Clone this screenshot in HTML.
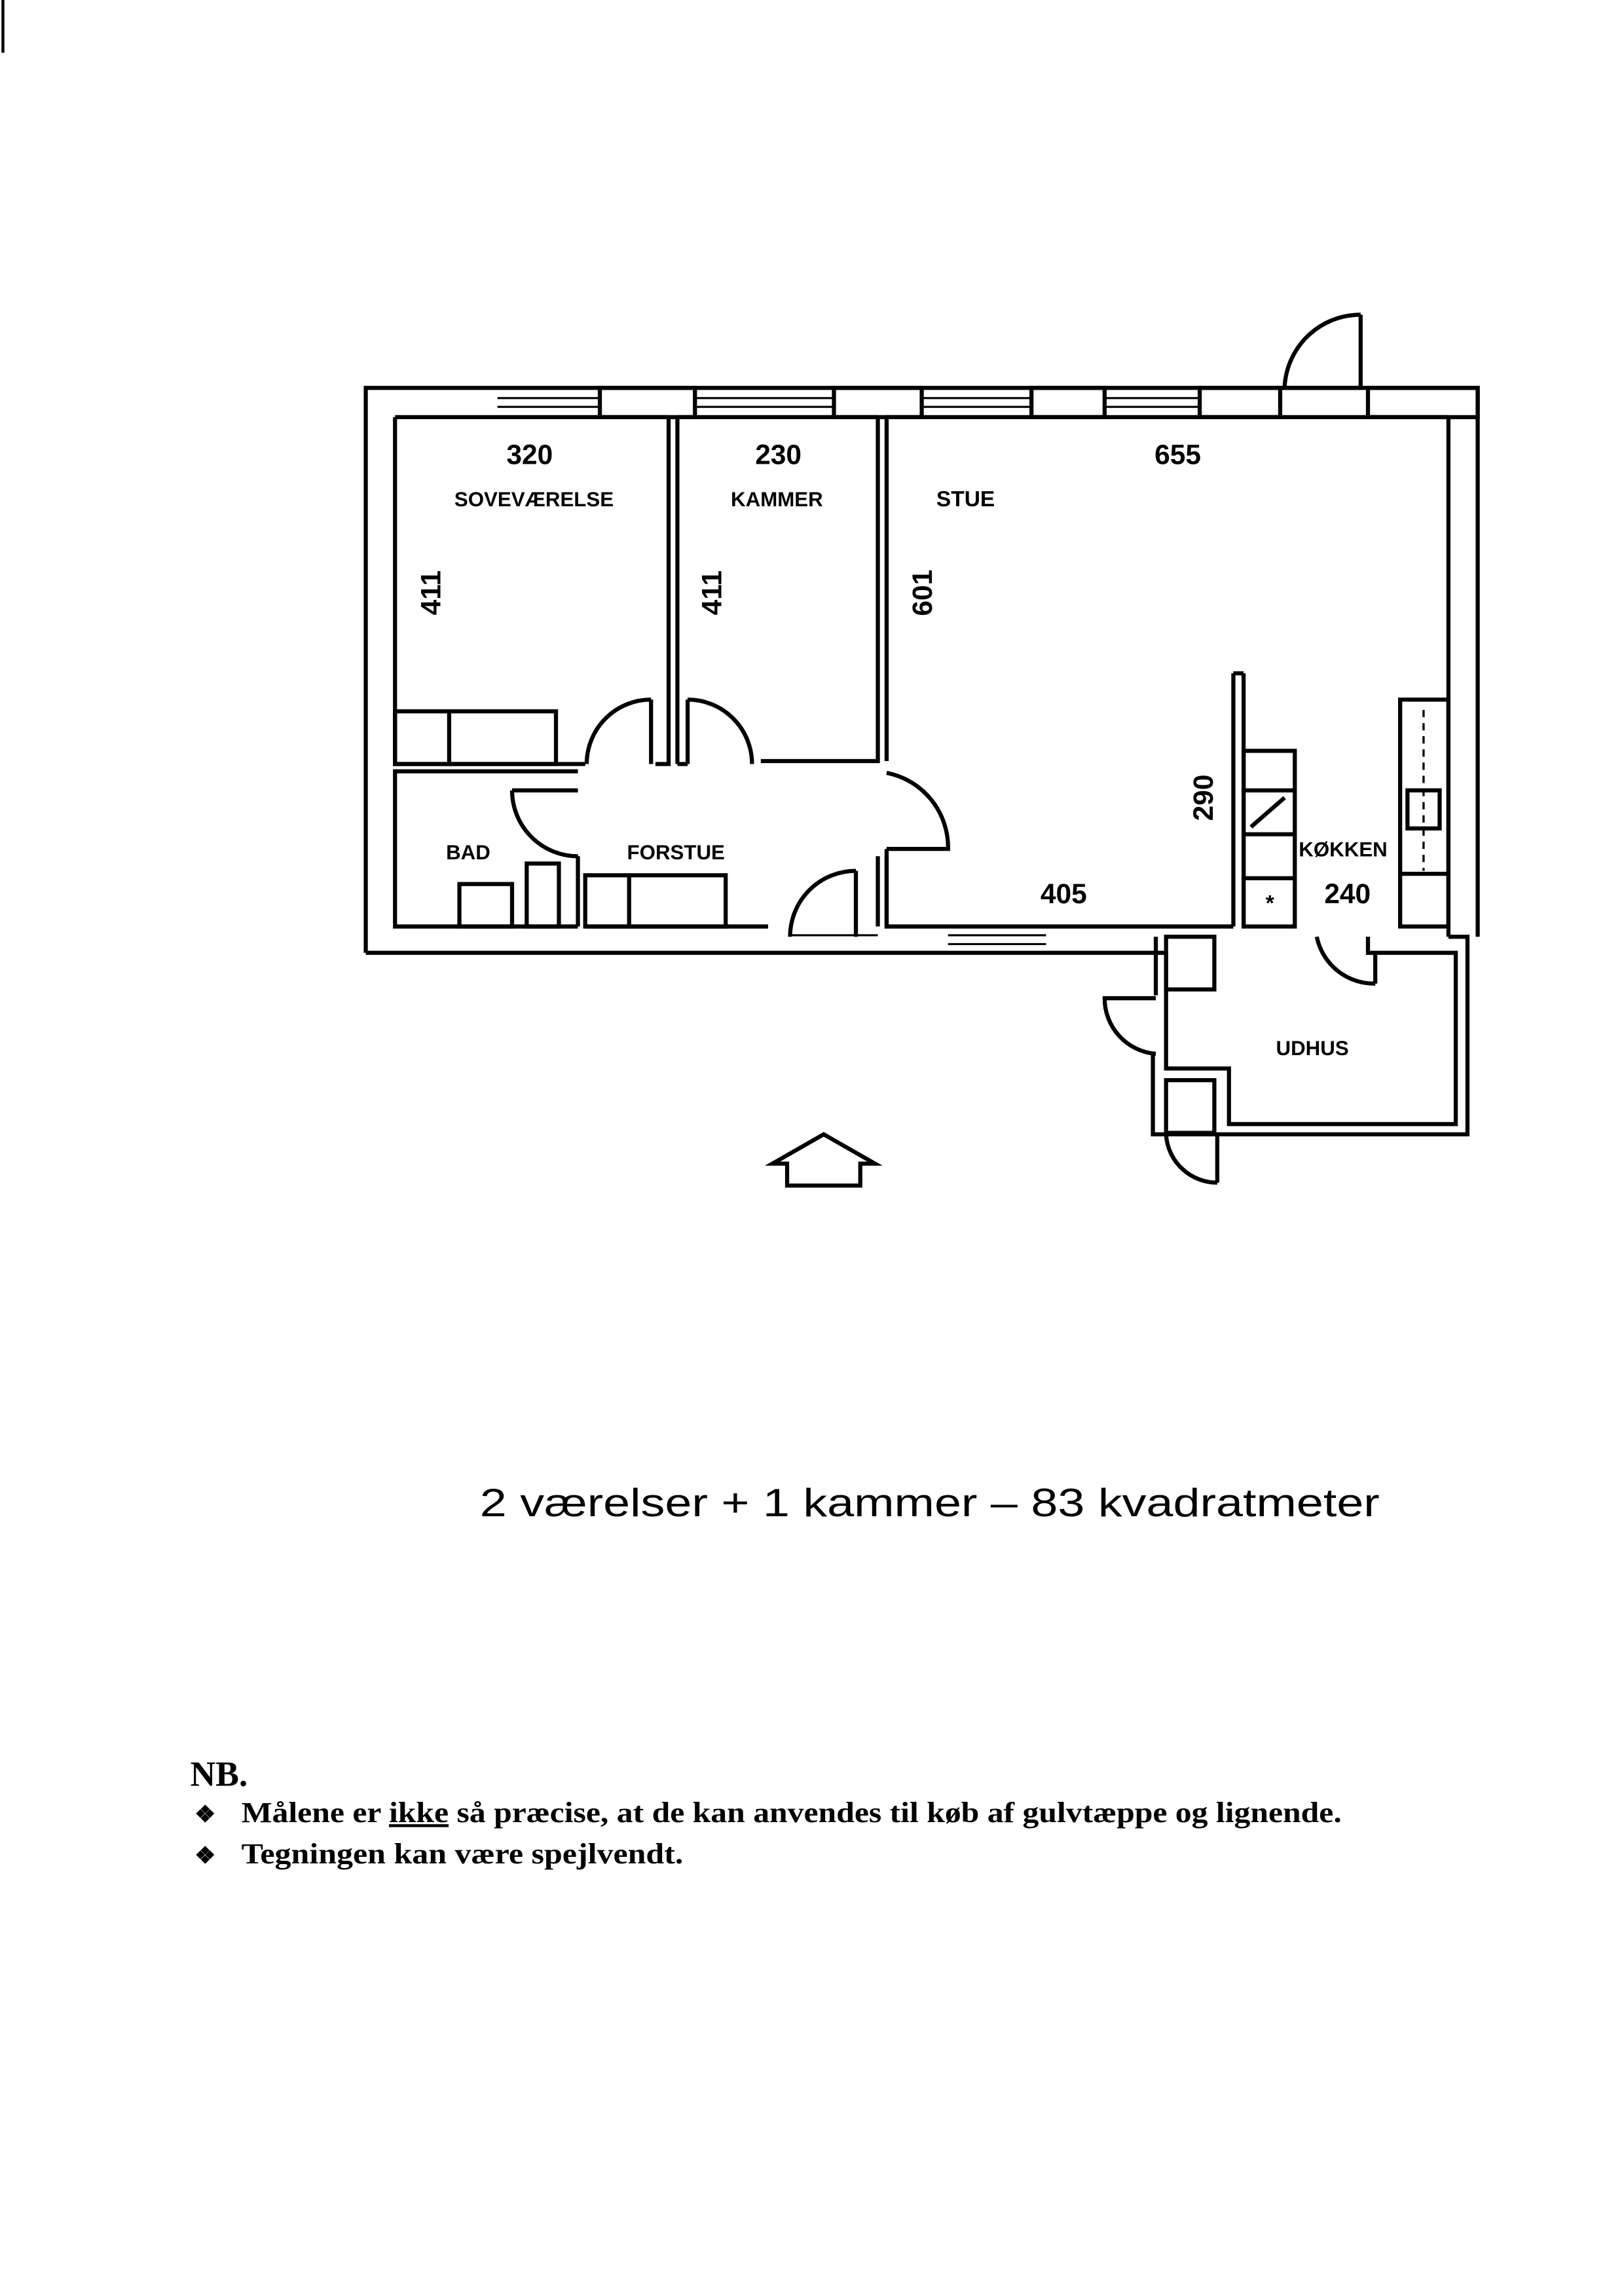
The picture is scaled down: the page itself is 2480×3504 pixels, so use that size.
<!DOCTYPE html>
<html><head><meta charset="utf-8"><style>
html,body{margin:0;padding:0;background:#fff}
svg{display:block}
</style></head><body>
<svg width="2480" height="3504" viewBox="0 0 1110 1568" preserveAspectRatio="none" xmlns="http://www.w3.org/2000/svg">
<rect width="1110" height="1568" fill="#fff"/>
<line x1="2" y1="0" x2="2" y2="36" stroke="#000" stroke-width="2"/>
<g fill="none" stroke="#000" stroke-width="2.8">
<polyline points="250,651 250,265 1010,265 1010,640"/>
<line x1="250" y1="651" x2="790" y2="651"/>
<line x1="270" y1="285" x2="457" y2="285"/>
<line x1="463" y1="285" x2="600" y2="285"/>
<line x1="606" y1="285" x2="990" y2="285"/>
<polyline points="400,522 270,522 270,285"/>
<polyline points="457,285 457,522 448,522"/>
<line x1="463" y1="285" x2="463" y2="522"/>
<polyline points="600,285 600,520 520,520"/>
<line x1="463" y1="522" x2="470" y2="522"/>
<polyline points="606,285 606,520"/>
<polyline points="606,580 606,633 843,633"/>
<polyline points="990,285 990,640"/>
<line x1="843" y1="460" x2="843" y2="633"/>
<line x1="850" y1="460" x2="850" y2="633"/>
<line x1="843" y1="460" x2="850" y2="460"/>
<polyline points="395,527 270,527 270,633 395,633"/>
<line x1="395" y1="585" x2="395" y2="633"/>
<line x1="400" y1="633" x2="525" y2="633"/>
<line x1="600" y1="585" x2="600" y2="633"/>
<line x1="606" y1="633" x2="606" y2="585"/>
<rect x="270" y="486" width="110" height="36"/>
<line x1="307" y1="486" x2="307" y2="522"/>
<rect x="400" y="598" width="96" height="35"/>
<line x1="430" y1="598" x2="430" y2="633"/>
<rect x="314" y="604" width="36" height="29"/>
<rect x="360" y="590" width="22" height="43"/>
<path d="M445,478 L445,522 M445,478 A44,44 0 0 0 401,522"/>
<path d="M470,478 L470,522 M470,478 A44,44 0 0 1 514,522"/>
<path d="M350,540 L395,540 M350,540 A45,45 0 0 0 395,585"/>
<path d="M606,528 A52,52 0 0 1 648,580 L606,580"/>
<path d="M585,595 L585,640 M585,595 A45,45 0 0 0 540,640"/>
<path d="M930,215 L930,265 M930,215 A52,52 0 0 0 878,265 L930,265"/>
<rect x="850" y="513" width="35" height="120"/>
<line x1="850" y1="540" x2="885" y2="540"/>
<line x1="850" y1="570" x2="885" y2="570"/>
<line x1="850" y1="600" x2="885" y2="600"/>
<line x1="855" y1="565" x2="878" y2="545"/>
<rect x="957" y="478" width="33" height="155"/>
<line x1="957" y1="597" x2="990" y2="597"/>
<rect x="962" y="540" width="22" height="26"/>
<line x1="973" y1="485" x2="973" y2="595" stroke-dasharray="5,4" stroke-width="1.5"/>
<polyline points="790,640 790,680"/>
<polyline points="788,720 788,775 1003,775 1003,640 990,640"/>
<polyline points="935,640 935,651 995,651 995,768 840,768 840,730 797,730 797,651 790,651"/>
<rect x="797" y="640" width="33" height="36"/>
<rect x="797" y="738" width="33" height="36"/>
<path d="M940,651 L940,672 M940,672 A40,40 0 0 1 900,640"/>
<path d="M790,682 L755,682 A38,38 0 0 0 790,720"/>
<path d="M832,808 L832,775 M832,808 A35,35 0 0 1 797,775"/>
<line x1="340" y1="272" x2="410" y2="272" stroke-width="1.4"/>
<line x1="340" y1="278" x2="410" y2="278" stroke-width="1.4"/>
<line x1="475" y1="272" x2="570" y2="272" stroke-width="1.4"/>
<line x1="475" y1="278" x2="570" y2="278" stroke-width="1.4"/>
<line x1="630" y1="272" x2="705" y2="272" stroke-width="1.4"/>
<line x1="630" y1="278" x2="705" y2="278" stroke-width="1.4"/>
<line x1="755" y1="272" x2="820" y2="272" stroke-width="1.4"/>
<line x1="755" y1="278" x2="820" y2="278" stroke-width="1.4"/>
<rect x="410" y="265" width="65" height="20"/>
<rect x="570" y="265" width="60" height="20"/>
<rect x="705" y="265" width="50" height="20"/>
<rect x="820" y="265" width="55" height="20"/>
<rect x="935" y="265" width="75" height="20"/>
<line x1="648" y1="639" x2="715" y2="639" stroke-width="1.4"/>
<line x1="648" y1="645" x2="715" y2="645" stroke-width="1.4"/>
<line x1="540" y1="639" x2="600" y2="639" stroke-width="1.4"/>
<path d="M528,795 L563,775 L598,795 L588,795 L588,810 L538,810 L538,795 Z"/>
</g>
<g font-family="Liberation Sans, sans-serif" font-weight="bold" fill="#000" text-anchor="middle">
<text x="362" y="317" font-size="19">320</text>
<text x="365" y="346" font-size="14">SOVEVÆRELSE</text>
<text x="532" y="317" font-size="19">230</text>
<text x="531" y="346" font-size="14">KAMMER</text>
<text x="660" y="346" font-size="15">STUE</text>
<text x="805" y="317" font-size="19">655</text>
<text x="320" y="587" font-size="14">BAD</text>
<text x="462" y="587" font-size="14">FORSTUE</text>
<text x="727" y="617" font-size="19">405</text>
<text x="918" y="585" font-size="14">KØKKEN</text>
<text x="921" y="617" font-size="19">240</text>
<text x="897" y="721" font-size="14">UDHUS</text>
<text x="868" y="622" font-size="15">*</text>
<text transform="translate(301,405) rotate(-90)" font-size="19">411</text>
<text transform="translate(493,405) rotate(-90)" font-size="19">411</text>
<text transform="translate(637,405) rotate(-90)" font-size="19">601</text>
<text transform="translate(829,545) rotate(-90)" font-size="19">290</text>
</g>
<text x="328" y="1036" font-family="Liberation Sans, sans-serif" font-size="27" fill="#000" textLength="615" lengthAdjust="spacingAndGlyphs">2 værelser + 1 kammer – 83 kvadratmeter</text>
<g font-family="Liberation Serif, serif" font-weight="bold" fill="#000">
<text x="130" y="1220" font-size="24">NB.</text>
<text x="133" y="1245" font-size="16">❖</text>
<text x="165" y="1245" font-size="20" textLength="752" lengthAdjust="spacingAndGlyphs">Målene er <tspan text-decoration="underline">ikke</tspan> så præcise, at de kan anvendes til køb af gulvtæppe og lignende.</text>
<text x="133" y="1273" font-size="16">❖</text>
<text x="165" y="1273" font-size="20" textLength="302" lengthAdjust="spacingAndGlyphs">Tegningen kan være spejlvendt.</text>
</g>
</svg>
</body></html>
